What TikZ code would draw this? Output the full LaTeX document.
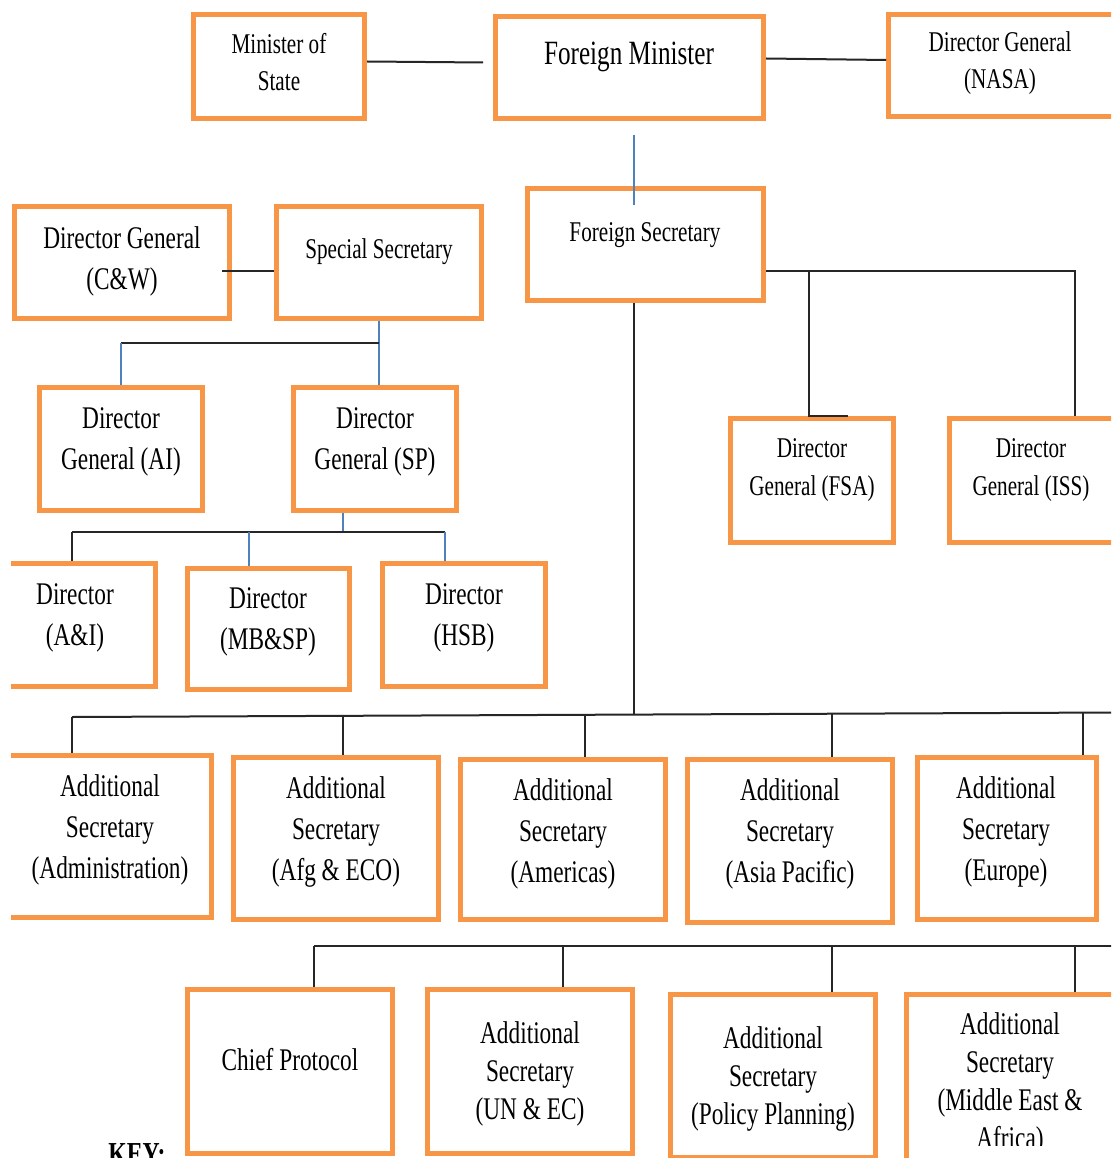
\documentclass[tikz,border=0pt]{standalone}
\usepackage{fontspec}
\setmainfont{Liberation Serif}[FakeStretch=0.74]
\usetikzlibrary{calc}
\definecolor{boxorange}{RGB}{247,150,70}
\definecolor{linkblue}{RGB}{79,129,189}
\newcommand\szsmall{\fontsize{28.6}{37}\selectfont}
\newcommand\szmid{\fontsize{31.5}{41}\selectfont}
\newcommand\szmidb{\fontsize{31.5}{38}\selectfont}
\newcommand\szbig{\fontsize{34}{41}\selectfont}
% box given by its outer corners (x1,y1) and (x2,y2)
\newcommand\orgbox[5]{%
  \node[obox, minimum width={#4-#2-5}, minimum height={#5-#3-5}]
    (#1) at ({(#2+#4)/2},{(#3+#5)/2}) {};}
\tikzset{
  obox/.style={draw=boxorange, line width=5pt, fill=white, rectangle, inner sep=0pt},
  txt/.style={align=center, inner sep=0pt, text=black},
  conn/.style={draw=black!85, line width=2pt},
  blueconn/.style={draw=linkblue, line width=1.6pt},
}
\begin{document}
\begin{tikzpicture}[x=1pt, y=-1pt]
\useasboundingbox[fill=white] (0,0) rectangle (1111,1158);
\clip (11,0) rectangle (1111,1158);

% ---- boxes ----
\orgbox{mos}{191}{12}{367}{121}
\orgbox{fm}{493}{14}{766}{121}
\orgbox{nasa}{886}{12}{1125}{119}
\orgbox{cw}{12}{204}{232}{321}
\orgbox{ss}{274}{204}{484}{321}
\orgbox{fs}{525}{186}{766}{303}
\orgbox{ai}{37}{385}{205}{513}
\orgbox{sp}{291}{385}{459}{513}
\orgbox{ani}{-20}{561}{158}{689}
\orgbox{mbsp}{185}{566}{352}{692}
\orgbox{hsb}{380}{561}{548}{689}
\orgbox{fsa}{728}{416}{896}{545}
\orgbox{iss}{947}{416}{1130}{545}
\orgbox{adm}{-20}{753}{214}{920}
\orgbox{afg}{231}{755}{441}{922}
\orgbox{ame}{458}{757}{668}{922}
\orgbox{asp}{685}{757}{895}{925}
\orgbox{eur}{915}{755}{1099}{922}
\orgbox{cp}{185}{987}{395}{1156}
\orgbox{unec}{425}{987}{635}{1156}
\orgbox{pp}{668}{992}{878}{1160}
\orgbox{mea}{904}{992}{1130}{1175}

% ---- labels ----
\node[txt, font=\szsmall] (mos-t) at (279,62) {Minister of\\State};
\node[txt, font=\szbig] (fm-t) at (629,57) {Foreign Minister};
\node[txt, font=\szsmall] (nasa-t) at (1000,63) {Director General\\(NASA)};
\node[txt, font=\szmid] (cw-t) at (122,261) {Director General\\(C\&W)};
\node[txt, font=\szsmall] (ss-t) at (379,252) {Special Secretary};
\node[txt, font=\szsmall] (fs-t) at (645,235) {Foreign Secretary};
\node[txt, font=\szmid] (ai-t) at (121,442) {Director\\General (AI)};
\node[txt, font=\szmid] (sp-t) at (375,442) {Director\\General (SP)};
\node[txt, font=\szmid] (ani-t) at (75,618) {Director\\(A\&I)};
\node[txt, font=\szmid] (mbsp-t) at (268,622) {Director\\(MB\&SP)};
\node[txt, font=\szmid] (hsb-t) at (464,618) {Director\\(HSB)};
\node[txt, font=\fontsize{28.6}{38}\selectfont] (fsa-t) at (812,470) {Director\\General (FSA)};
\node[txt, font=\fontsize{28.6}{38}\selectfont] (iss-t) at (1031,470) {Director\\General (ISS)};
\node[txt, font=\szmid] (adm-t) at (110,830) {Additional\\Secretary\\(Administration)};
\node[txt, font=\szmid] (afg-t) at (336,832) {Additional\\Secretary\\(Afg \& ECO)};
\node[txt, font=\szmid] (ame-t) at (563,834) {Additional\\Secretary\\(Americas)};
\node[txt, font=\szmid] (asp-t) at (790,834) {Additional\\Secretary\\(Asia Pacific)};
\node[txt, font=\szmid] (eur-t) at (1006,832) {Additional\\Secretary\\(Europe)};
\node[txt, font=\szmid] (cp-t) at (290,1060) {Chief Protocol};
\node[txt, font=\szmidb] (unec-t) at (530,1074) {Additional\\Secretary\\(UN \& EC)};
\node[txt, font=\szmidb] (pp-t) at (773,1079) {Additional\\Secretary\\(Policy Planning)};
\begin{scope}
  \clip (904,992) rectangle (1111,1145);
  \node[txt, font=\szmidb] (mea-t) at (1010,1084) {Additional\\Secretary\\(Middle East \&\\Africa)};
\end{scope}
\node[anchor=base, inner sep=0pt, font=\bfseries\fontsize{32}{38}\selectfont] (key) at (137,1164) {KEY:};

% ---- top row links ----
\draw[conn] ([yshift=5pt]mos.east) -- ([xshift=-10pt,yshift=5pt]fm.west);
\draw[conn] ([yshift=9pt]fm.east) -- ([yshift=5.5pt]nasa.west);
\draw[blueconn] ([xshift=4.5pt,yshift=-14pt]fm.south) -- ([xshift=-11.5pt,yshift=-19pt]fs.north);

% ---- special secretary branch ----
\draw[conn] ([xshift=-10pt,yshift=-8.5pt]cw.east) -- ([yshift=-8.5pt]ss.west);
\coordinate (ssj) at ($(ss.south)+(0,22)$);
\draw[blueconn] (ss.south) -- (ss.south |- sp.north);
\draw[conn] (ssj) -- (ssj -| ai.north);
\draw[blueconn] (ssj -| ai.north) -- (ai.north);

\coordinate (spj) at ([xshift=-32pt,yshift=-19pt]sp.south);
\coordinate (jl) at (72,532);
\coordinate (jm) at (249,532);
\coordinate (jr) at (445,532);
\draw[blueconn] ([xshift=-32pt]sp.south) -- (spj);
\draw[conn] (jl) -- (jr);
\draw[conn] (jl) -- (jl |- ani.north);
\draw[blueconn] (jm) -- (jm |- mbsp.north);
\draw[blueconn] (jr) -- (jr |- hsb.north);

% ---- foreign secretary, right branch ----
\coordinate (fsr) at ([yshift=-26.5pt]fs.east);
\coordinate (fr) at (1075,271);
\coordinate (fq) at (809,271);
\draw[conn] (fsr) -| (fr |- iss.north);
\draw[conn] (fq) -- (fq |- fsa.north) -- ++(39,0);

% ---- foreign secretary, additional secretaries ----
\coordinate (fsb) at ([xshift=-11.5pt]fs.south);
\draw[conn] (fsb) -- ++(0,412);
\coordinate (a1) at (72,717);
\coordinate (a2) at (343,716);
\coordinate (a3) at (585,715);
\coordinate (a4) at (832,714);
\coordinate (a5) at (1083,713);
\draw[conn] (a1) -- (1115,712.5);
\draw[conn] (a1) -- (a1 |- adm.north);
\draw[conn] (a2) -- (a2 |- afg.north);
\draw[conn] (a3) -- (a3 |- ame.north);
\draw[conn] (a4) -- (a4 |- asp.north);
\draw[conn] (a5) -- (a5 |- eur.north);

\coordinate (b1) at (314,946);
\coordinate (b2) at (563,946);
\coordinate (b3) at (832,946);
\coordinate (b4) at (1075,946);
\draw[conn] (b1) -- (1115,946);
\draw[conn] (b1) -- (b1 |- cp.north);
\draw[conn] (b2) -- (b2 |- unec.north);
\draw[conn] (b3) -- (b3 |- pp.north);
\draw[conn] (b4) -- (b4 |- mea.north);
\end{tikzpicture}
\end{document}
